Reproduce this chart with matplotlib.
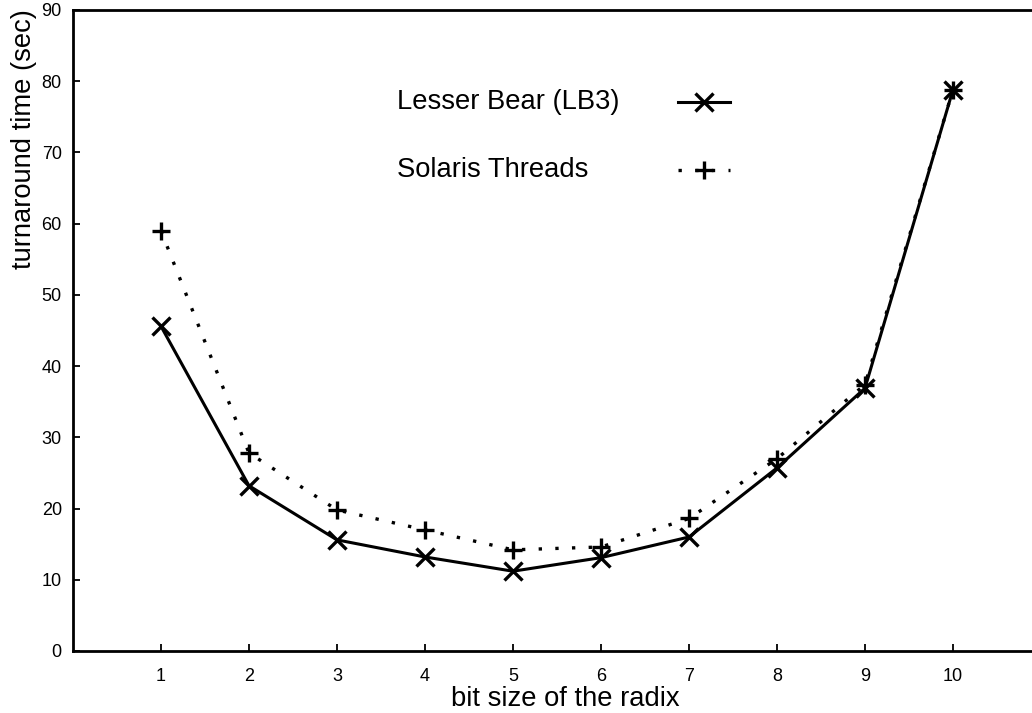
import matplotlib
matplotlib.use("Agg")
import matplotlib.pyplot as plt

plt.rcParams['font.family'] = ['Liberation Sans', 'DejaVu Sans']

bits = [1, 2, 3, 4, 5, 6, 7, 8, 9, 10]
lesser_bear = [45.6, 23.2, 15.6, 13.2, 11.2, 13.1, 16.0, 25.7, 36.9, 78.8]
solaris = [59.0, 27.8, 19.8, 17.0, 14.2, 14.6, 18.6, 27.0, 37.4, 78.8]
yticks = [0, 10, 20, 30, 40, 50, 60, 70, 80, 90]

LINE_STYLE = dict(color='black', markersize=13, markeredgewidth=2.4)
SOLID_LW = 2.2
DOTTED_LW = 2.4
DOTTED = (0, (1, 4))


def draw_key(ax, label, y, marker, linestyle, lw):
    # legend drawn by hand: text on the left, line sample on the right
    ax.text(0.335, y, label, transform=ax.transAxes, fontsize=19.7,
            ha='left', va='center')
    ax.plot([0.625, 0.679], [y, y], transform=ax.transAxes, clip_on=False,
            linestyle=linestyle, color='black', linewidth=lw)
    ax.plot([0.652], [y], transform=ax.transAxes, clip_on=False,
            marker=marker, linestyle='none', color='black',
            markersize=13, markeredgewidth=2.4)


def main():
    fig = plt.figure(figsize=(10.32, 7.13), dpi=100)
    ax = fig.add_axes([0.0707, 0.087, 0.938, 0.899])

    ax.plot(bits, solaris, marker='+', linestyle=DOTTED, linewidth=DOTTED_LW, **LINE_STYLE)
    ax.plot(bits, lesser_bear, marker='x', linestyle='-', linewidth=SOLID_LW, **LINE_STYLE)

    ax.set_xlim(0, 11)
    ax.set_ylim(0, 90)
    ax.set_xticks(bits)
    ax.set_yticks(yticks)

    for side in ax.spines:
        ax.spines[side].set_linewidth(2)
    ax.tick_params(direction='in', length=5, width=1.3, labelsize=13)
    ax.tick_params(axis='x', pad=12)
    ax.tick_params(axis='y', pad=8)

    ax.set_xlabel('bit size of the radix', fontsize=19.7, labelpad=1, x=0.509)
    ax.set_ylabel('turnaround time (sec)', fontsize=19.7, labelpad=3, y=0.799)

    draw_key(ax, 'Lesser Bear (LB3)', 0.856, 'x', '-', SOLID_LW)
    draw_key(ax, 'Solaris Threads', 0.750, '+', DOTTED, DOTTED_LW)

    fig.savefig('out.png', dpi=100)


if __name__ == "__main__":
    main()
